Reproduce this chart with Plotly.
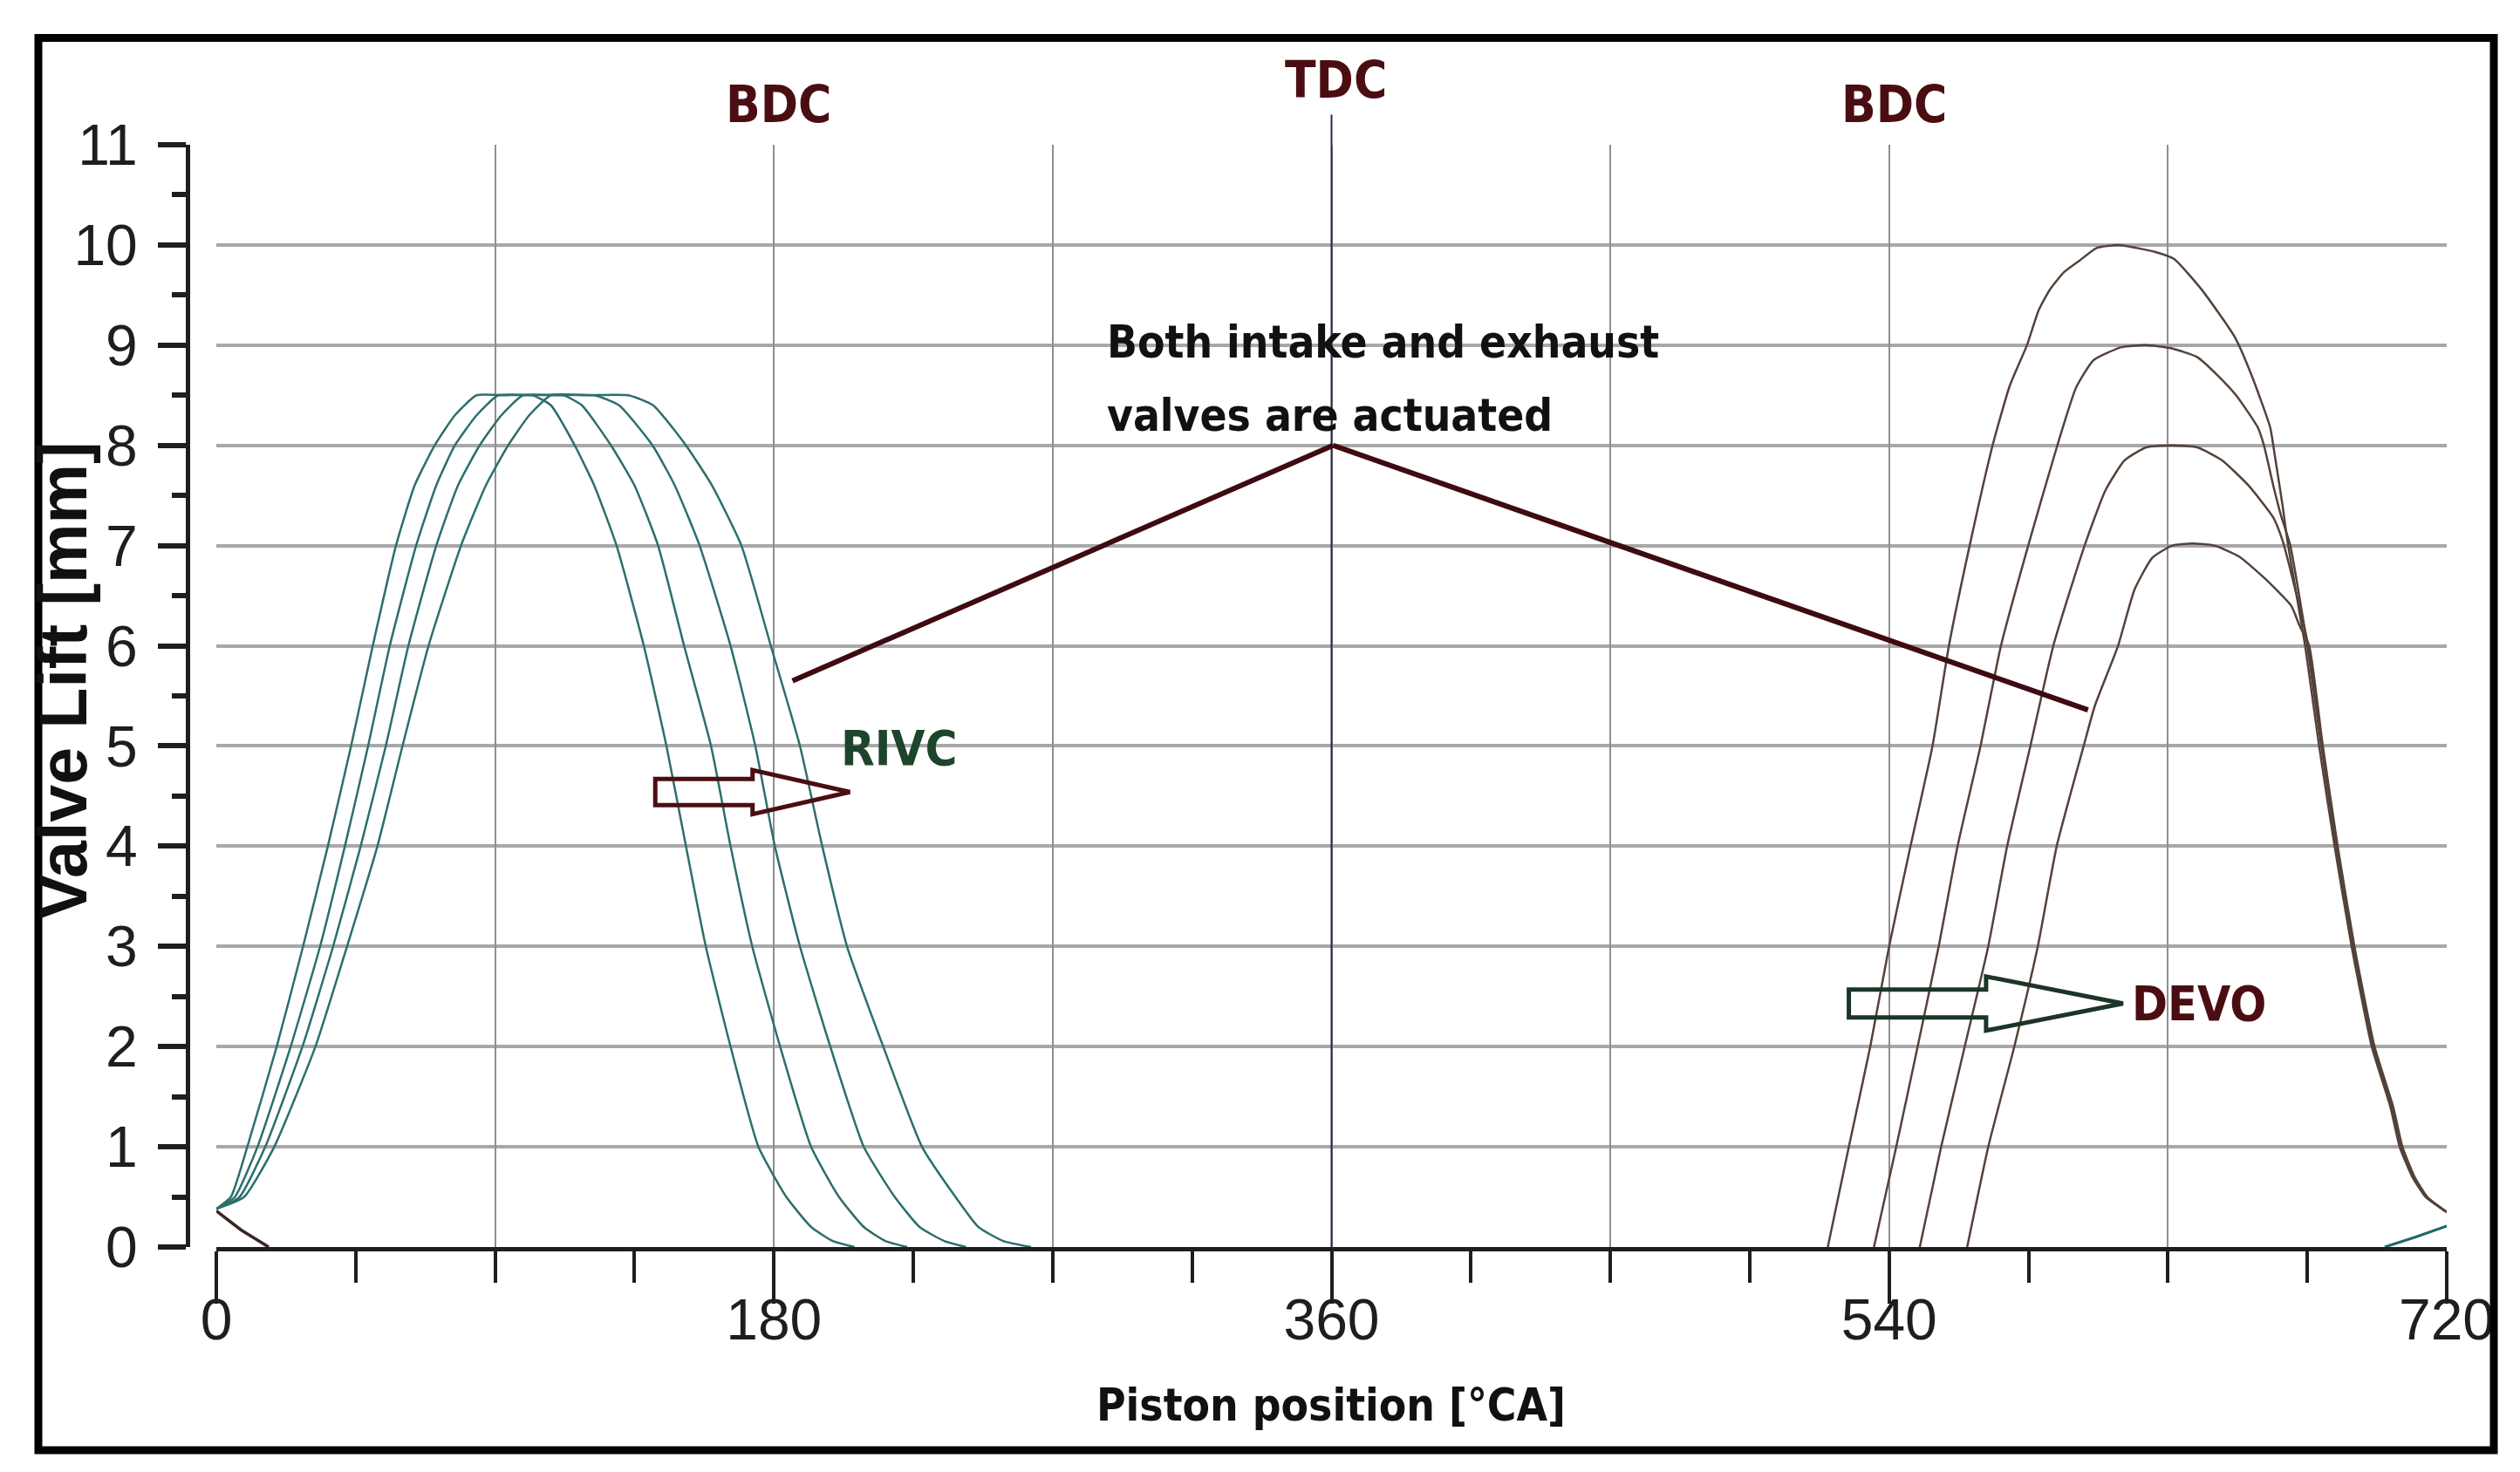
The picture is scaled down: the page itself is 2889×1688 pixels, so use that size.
import plotly.graph_objects as go

# ---------------- data ----------------
# Intake valve lift curves (RIVC variants), crank angle [deg CA] vs lift [mm]
INTAKE_A_X = [0, 4.7, 10, 19.5, 28, 36, 43.5, 50.5, 58, 64, 70.5, 77, 84, 93, 102, 108, 115.7, 122, 129.2, 138, 145.3, 151.6, 158, 166, 175, 184, 192, 199, 206]
INTAKE_B_X = [0, 6, 13.3, 24, 33.5, 41.5, 49, 56, 64.5, 71, 77, 84, 91, 101, 112, 118, 127.4, 135, 142.6, 151, 159.7, 166, 173, 182, 192, 201, 209, 216, 223]
INTAKE_C_X = [0, 7.5, 15.8, 27.8, 37.7, 46.6, 54.7, 62, 71, 78, 85, 92, 99, 110, 122, 130, 140.8, 148, 156, 166, 174, 180.3, 188.4, 198.2, 209, 219, 227, 235, 242]
INTAKE_D_X = [0, 9, 18.7, 32, 42.2, 52, 60.1, 68.5, 79, 87, 94.2, 101, 108, 120, 133, 141, 151.6, 160, 169.5, 179, 188.4, 195.6, 203.6, 215.3, 227.8, 238.6, 246, 254, 263]
INTAKE_Y = [0.38, 0.5, 1, 2, 3, 4, 5, 6, 7, 7.6, 8, 8.3, 8.5, 8.5, 8.5, 8.4, 8, 7.6, 7, 6, 5, 4, 3, 2, 1, 0.5, 0.2, 0.06, 0]

# Intake opening of the next cycle (wraps around at 720)
INTAKE_WRAP_X = [700, 710, 720]
INTAKE_WRAP_Y = [0, 0.1, 0.21]

# Exhaust valve lift curves (DEVO variants)
EXH_10_X = [520.2, 527, 533.9, 540, 546.9, 554, 559.3, 566, 573.4, 579, 584.5, 588.3, 592, 596.5, 601.7, 607, 614, 620, 626, 632, 641, 651.6, 657, 663, 664.5, 667, 668.8, 674.3, 678.8, 683.8, 689.3, 695.8, 701.8, 704.8, 708.9, 713.2, 719, 720]
EXH_10_Y = [0, 1, 2, 3, 4, 5, 6, 7, 8, 8.6, 9, 9.35, 9.56, 9.73, 9.85, 9.97, 10.0, 9.97, 9.93, 9.86, 9.55, 9.08, 8.7, 8.18, 7.9, 7.4, 7.0, 6.0, 5, 4, 3, 2, 1.4, 1, 0.7, 0.5, 0.37, 0.35]
EXH_9_X = [535.1, 542.3, 549.2, 556, 562.1, 569.5, 576.1, 584.9, 594.3, 600.4, 606, 615, 623, 631, 639.5, 646, 652, 659, 661, 664, 666.5, 669.5, 675, 679.5, 684.3, 689.8, 696.3, 702.3, 705.3, 709.3, 713.5, 719, 720]
EXH_9_Y = [0, 1, 2, 3, 4, 5, 6, 7, 8, 8.58, 8.85, 8.98, 9.0, 8.97, 8.88, 8.7, 8.5, 8.18, 8.0, 7.6, 7.3, 7.0, 6.0, 5, 4, 3, 2, 1.4, 1, 0.7, 0.5, 0.37, 0.35]
EXH_8_X = [549.9, 556.8, 564.4, 572, 578.1, 585.6, 593, 603.1, 609.8, 616, 623, 631, 639.5, 647.5, 656, 664, 667, 670, 675.3, 679.8, 684.6, 690, 696.5, 702.5, 705.5, 709.5, 713.6, 719, 720]
EXH_8_Y = [0, 1, 2, 3, 4, 5, 6, 7, 7.55, 7.85, 7.98, 8.0, 7.98, 7.85, 7.6, 7.28, 7.05, 6.7, 6.0, 5, 4, 3, 2, 1.4, 1, 0.7, 0.5, 0.37, 0.35]
EXH_7_X = [565.2, 572, 580.4, 588, 594.1, 602.8, 606.4, 613.9, 619.2, 625, 631.4, 638, 645, 653, 661, 669.8, 672.5, 675.6, 680, 684.8, 690.2, 696.7, 702.7, 705.7, 709.6, 713.7, 719, 720]
EXH_7_Y = [0, 1, 2, 3, 4, 5, 5.4, 6, 6.56, 6.88, 7.0, 7.02, 7.0, 6.89, 6.68, 6.4, 6.2, 6.0, 5, 4, 3, 2, 1.4, 1, 0.7, 0.5, 0.37, 0.35]

# Exhaust closing of the previous cycle (wraps around at 0)
EXH_WRAP_X = [0, 8, 16.9]
EXH_WRAP_Y = [0.36, 0.17, 0]

X_TICKS = [0, 180, 360, 540, 720]
X_GRID = [0, 90, 180, 270, 360, 450, 540, 630, 720]
Y_TICKS = list(range(0, 12))
DEAD_CENTRES = [180, 360, 540]
DEAD_CENTRE_LABELS = ["BDC", "TDC", "BDC"]

NOTE_LINES = ["Both intake and exhaust", "valves are actuated"]
NOTE_X = 287
NOTE_LINE_Y = [9.03, 8.30]
LEADER_APEX = (360.5, 8.0)
LEADER_ENDS = [(186.0, 5.65), (604.2, 5.36)]

RIVC_ARROW = dict(tail=141.7, neck=173.1, tip=204.5, y=4.54, body=0.13, head=0.22)
DEVO_ARROW = dict(tail=527.0, neck=571.3, tip=615.5, y=2.43, body=0.14, head=0.27)
RIVC_LABEL = (220.5, 4.98)
DEVO_LABEL = (640.0, 2.43)

# ---------------- layout geometry / styles ----------------
W, H = 2889, 1688
ML, MR, MT, MB = 207, 92, 158, 266
PW = W - ML - MR
PH = H - MT - MB
PLOT_LEFT_PX = 240


def px_x(px):
    return (px - ML) / PW


def px_y(py):
    return (H - MB - py) / PH


YMAX = 11.0
NARROW = "Liberation Sans Narrow, Arial Narrow, DejaVu Sans Condensed, sans-serif"
REG = "Liberation Sans, Arial, Helvetica, sans-serif"
INK = "#1e1e1e"
MAROON = "#4a0e12"
DKGREEN = "#1d452b"
INTAKE_COLOR = "#2b6f6d"
EXH_COLOR = "#54423a"

fig = go.Figure()

for xs in (INTAKE_A_X, INTAKE_B_X, INTAKE_C_X, INTAKE_D_X):
    fig.add_trace(go.Scatter(x=xs, y=INTAKE_Y, mode="lines",
                             line=dict(color=INTAKE_COLOR, width=2.5, shape="spline", smoothing=0.5),
                             showlegend=False, hoverinfo="skip"))
fig.add_trace(go.Scatter(x=INTAKE_WRAP_X, y=INTAKE_WRAP_Y, mode="lines",
                         line=dict(color="#1f6570", width=3), showlegend=False, hoverinfo="skip"))

for xs, ys in ((EXH_10_X, EXH_10_Y), (EXH_9_X, EXH_9_Y), (EXH_8_X, EXH_8_Y), (EXH_7_X, EXH_7_Y)):
    fig.add_trace(go.Scatter(x=xs, y=ys, mode="lines",
                             line=dict(color=EXH_COLOR, width=2.5, shape="spline", smoothing=0.5),
                             showlegend=False, hoverinfo="skip"))
fig.add_trace(go.Scatter(x=EXH_WRAP_X, y=EXH_WRAP_Y, mode="lines",
                         line=dict(color="#3a2622", width=3.5), showlegend=False, hoverinfo="skip"))

# empty trace so the grid overlay axis is instantiated
fig.add_trace(go.Scatter(x=[], y=[], xaxis="x2", yaxis="y", showlegend=False, hoverinfo="skip"))

tickfont = dict(family=REG, size=66, color=INK)

fig.update_layout(
    width=W, height=H,
    margin=dict(l=ML, r=MR, t=MT, b=MB, autoexpand=False),
    paper_bgcolor="white", plot_bgcolor="white",
    xaxis=dict(
        domain=[px_x(PLOT_LEFT_PX), 1], range=[0, 720], anchor="y",
        tickmode="array", tickvals=X_TICKS, ticktext=[str(v) for v in X_TICKS],
        ticks="outside", ticklen=60, tickwidth=4, tickcolor=INK, tickfont=tickfont,
        ticklabelstandoff=-38,
        minor=dict(tickmode="linear", tick0=0, dtick=45, ticks="outside", ticklen=36,
                   tickwidth=4, tickcolor=INK, showgrid=False),
        showline=True, linewidth=5, linecolor=INK,
        showgrid=False, zeroline=False, automargin=False,
    ),
    xaxis2=dict(
        overlaying="x", domain=[px_x(PLOT_LEFT_PX), 1], range=[0, 720], anchor="y",
        tickmode="array", tickvals=X_GRID, showticklabels=False, ticks="",
        showgrid=True, gridcolor="#8f8f8f", gridwidth=2, zeroline=False, showline=False,
        automargin=False,
    ),
    yaxis=dict(
        range=[0, YMAX], anchor="free", position=0, side="left",
        tickmode="array", tickvals=Y_TICKS, ticktext=[str(v) for v in Y_TICKS],
        ticks="outside", ticklen=32, tickwidth=6, tickcolor=INK, tickfont=tickfont,
        ticklabelstandoff=10,
        minor=dict(tickmode="linear", tick0=0, dtick=0.5, ticks="outside", ticklen=16,
                   tickwidth=6, tickcolor=INK, showgrid=False),
        showline=True, linewidth=5, linecolor=INK,
        showgrid=True, gridcolor="#a8a8a8", gridwidth=4, zeroline=False,
        automargin=False,
    ),
)

shapes = []
# outer frame
shapes.append(dict(type="rect", xref="paper", yref="paper",
                   x0=px_x(36), x1=px_x(2851), y0=px_y(1655), y1=px_y(35.5),
                   line=dict(color="black", width=9), fillcolor="rgba(0,0,0,0)", layer="above"))
# TDC line
shapes.append(dict(type="line", xref="x", yref="paper", x0=360, x1=360, y0=0, y1=11.3 / YMAX,
                   line=dict(color="#26264a", width=2)))
# leader lines
for ex, ey in LEADER_ENDS:
    shapes.append(dict(type="line", xref="x", yref="y", x0=LEADER_APEX[0], y0=LEADER_APEX[1],
                       x1=ex, y1=ey, line=dict(color="#3f0a12", width=6)))


def arrow_path(a):
    t, n, p, y, b, h = a["tail"], a["neck"], a["tip"], a["y"], a["body"], a["head"]
    return (f"M {t},{y + b} L {n},{y + b} L {n},{y + h} L {p},{y} "
            f"L {n},{y - h} L {n},{y - b} L {t},{y - b} Z")


shapes.append(dict(type="path", xref="x", yref="y", path=arrow_path(RIVC_ARROW),
                   line=dict(color=MAROON, width=5), fillcolor="rgba(255,255,255,0)"))
shapes.append(dict(type="path", xref="x", yref="y", path=arrow_path(DEVO_ARROW),
                   line=dict(color="#1b3527", width=5), fillcolor="rgba(255,255,255,0)"))
fig.update_layout(shapes=shapes)

ann = []
for xv, lab in zip(DEAD_CENTRES, DEAD_CENTRE_LABELS):
    ypix = 84 if lab == "TDC" else 112
    ann.append(dict(x=xv + 1.5, y=px_y(ypix), xref="x", yref="paper", text=f"<b>{lab}</b>",
                    showarrow=False, xanchor="center", yanchor="middle",
                    font=dict(family=NARROW, size=58, color=MAROON)))
for line, yv in zip(NOTE_LINES, NOTE_LINE_Y):
    ann.append(dict(x=NOTE_X, y=yv, xref="x", yref="y", text=f"<b>{line}</b>",
                    showarrow=False, xanchor="left", yanchor="middle", align="left",
                    font=dict(family=NARROW, size=51, color="#111111")))
ann.append(dict(x=RIVC_LABEL[0], y=RIVC_LABEL[1], xref="x", yref="y", text="<b>RIVC</b>",
                showarrow=False, xanchor="center", yanchor="middle",
                font=dict(family=NARROW, size=56, color=DKGREEN)))
ann.append(dict(x=DEVO_LABEL[0], y=DEVO_LABEL[1], xref="x", yref="y", text="<b>DEVO</b>",
                showarrow=False, xanchor="center", yanchor="middle",
                font=dict(family=NARROW, size=55, color=MAROON)))
# axis titles
ann.append(dict(x=px_x(64), y=px_y(772), xref="paper", yref="paper", text="<b>Valve Lift [mm]</b>",
                showarrow=False, textangle=-90, xanchor="center", yanchor="middle",
                font=dict(family=REG, size=77, color="#111111")))
ann.append(dict(x=px_x(1518), y=px_y(1603), xref="paper", yref="paper",
                text="<b>Piston position [°CA]</b>", showarrow=False,
                xanchor="center", yanchor="middle",
                font=dict(family=NARROW, size=51, color="#111111")))
fig.update_layout(annotations=ann)

fig.write_html("out.html")
